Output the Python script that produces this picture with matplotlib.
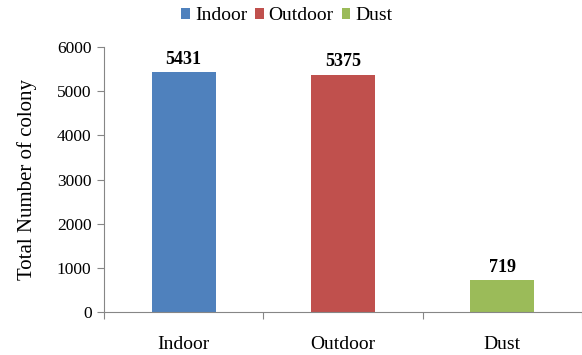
import numpy as np
import matplotlib.pyplot as plt
from matplotlib.patches import Patch

categories = ['Indoor', 'Outdoor', 'Dust']
values = [5431, 5375, 719]
colors = ['#4F81BD', '#C0504D', '#9BBB59']

plt.rcParams['font.family'] = 'Liberation Serif'

fig = plt.figure(figsize=(5.82, 3.55), dpi=100)
ax = fig.add_axes([0.1787, 0.121, 0.8213, 0.7466])

x = np.arange(len(categories))
ax.bar(x, values, width=0.4, color=colors)

for xi, v in zip(x, values):
    ax.text(xi, v + 100, str(v), ha='center', va='bottom', fontsize=13, fontweight='bold')

ax.set_xlim(-0.5, 2.49)
ax.set_ylim(0, 6000)
ax.set_yticks(np.arange(0, 6001, 1000))

# ticks between categories, labels centred under bars
ax.set_xticks([-0.5, 0.5, 1.5, 2.5])
ax.set_xticklabels([])
ax.set_xticks(x, minor=True)
ax.set_xticklabels(categories, minor=True, fontsize=14)
ax.tick_params(axis='x', which='minor', length=0, pad=17)
ax.tick_params(axis='x', which='major', length=5, color='#868686', direction='out')
ax.tick_params(axis='y', length=5, color='#868686', labelsize=12.5, pad=4)

for s in ['top', 'right']:
    ax.spines[s].set_visible(False)
for s in ['left', 'bottom']:
    ax.spines[s].set_color('#868686')

ax.set_ylabel('Total Number of colony', fontsize=15, labelpad=14)

handles = [Patch(facecolor=c, label=l) for c, l in zip(colors, categories)]
fig.legend(handles=handles, loc='center', bbox_to_anchor=(0.493, 0.955), ncol=3,
           frameon=False, fontsize=14, handlelength=0.45, handleheight=0.45,
           handletextpad=0.25, columnspacing=0.4)

fig.savefig('out.png', dpi=100)
